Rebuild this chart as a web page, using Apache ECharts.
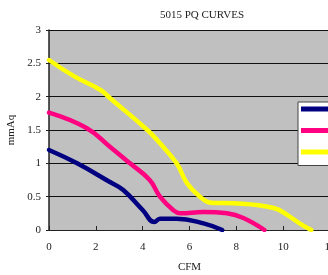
<!DOCTYPE html>
<html>
<head>
<meta charset="utf-8">
<script src="https://cdn.jsdelivr.net/npm/echarts@6/dist/echarts.min.js"></script>
<style>
  html, body { margin: 0; padding: 0; background: #fff; }
  #main { width: 328px; height: 275px; }
</style>
</head>
<body>
<div id="main"></div>
<script>
// 曲线数据 [CFM, mmAq]
const lowCurve = [[0, 1.2], [1.2, 1.0], [2.6, 0.72], [3.17, 0.6], [4.0, 0.3], [4.5, 0.12], [4.74, 0.17], [5.45, 0.17], [6.6, 0.1], [7.4, 0]];
const midCurve = [[0, 1.76], [1.6, 1.53], [2.6, 1.25], [3.46, 1.0], [4.3, 0.75], [4.74, 0.5], [5.3, 0.3], [5.6, 0.25], [6.6, 0.27], [7.6, 0.25], [8.3, 0.18], [9.2, 0]];
const highCurve = [[0, 2.55], [1.1, 2.3], [2.2, 2.1], [2.6, 1.98], [4.2, 1.5], [4.74, 1.3], [5.45, 1.0], [5.9, 0.7], [6.45, 0.5], [6.9, 0.41], [7.9, 0.4], [9.6, 0.33], [10.2, 0.22], [10.7, 0.1], [11.2, 0]];
const seriesNames = ['Low', 'Medium', 'High'];

const font = 'Liberation Serif, Times New Roman, serif';
const myChart = echarts.init(document.getElementById('main'));

const mkLine = (name, data, color) => ({
  name,
  type: 'line',
  data,
  smooth: 0.45,
  symbol: 'none',
  lineStyle: { color, width: 4.5, cap: 'round' },
  itemStyle: { color }
});

myChart.setOption({
  animation: false,
  title: {
    text: '5015 PQ CURVES',
    left: 197,
    textAlign: 'center',
    top: 5,
    textStyle: { fontFamily: font, fontSize: 11, fontWeight: 'normal', color: '#222' }
  },
  // 图例框，文字在画布外被裁掉
  legend: {
    orient: 'vertical',
    left: 298,
    top: 102,
    icon: 'rect',
    padding: [1.5, 4, 8, 3],
    itemWidth: 30,
    itemHeight: 5,
    itemGap: 10.5,
    backgroundColor: '#fff',
    borderColor: '#444',
    borderWidth: 1,
    textStyle: { fontFamily: font, fontSize: 11, color: '#222' },
    data: seriesNames
  },
  grid: {
    left: 49, top: 30, right: -2, bottom: 45,
    outerBoundsMode: 'none',
    containLabel: false,
    show: true,
    backgroundColor: '#c0c0c0',
    borderWidth: 0
  },
  xAxis: {
    type: 'value',
    min: 0, max: 12, interval: 2,
    name: 'CFM',
    nameLocation: 'middle',
    nameGap: 32,
    nameTextStyle: { fontFamily: font, fontSize: 11, color: '#222' },
    axisLine: { show: true, lineStyle: { color: '#222', width: 1 } },
    axisTick: { show: true, inside: true, length: 4, lineStyle: { color: '#222' } },
    axisLabel: { fontFamily: font, fontSize: 11, color: '#222', margin: 12 },
    splitLine: { show: false }
  },
  yAxis: {
    type: 'value',
    min: 0, max: 3, interval: 0.5,
    name: 'mmAq',
    nameLocation: 'middle',
    nameGap: 30,
    nameRotate: 90,
    nameTextStyle: { fontFamily: font, fontSize: 11, color: '#222' },
    axisLine: { show: true, lineStyle: { color: '#222', width: 1.5 } },
    axisTick: { show: true, length: 3, lineStyle: { color: '#222' } },
    axisLabel: { fontFamily: font, fontSize: 11, color: '#222', margin: 8 },
    splitLine: { show: true, lineStyle: { color: '#111', width: 1 } }
  },
  series: [
    mkLine(seriesNames[0], lowCurve, '#000080'),
    mkLine(seriesNames[1], midCurve, '#ff0080'),
    mkLine(seriesNames[2], highCurve, '#ffff00')
  ]
});
</script>
</body>
</html>
